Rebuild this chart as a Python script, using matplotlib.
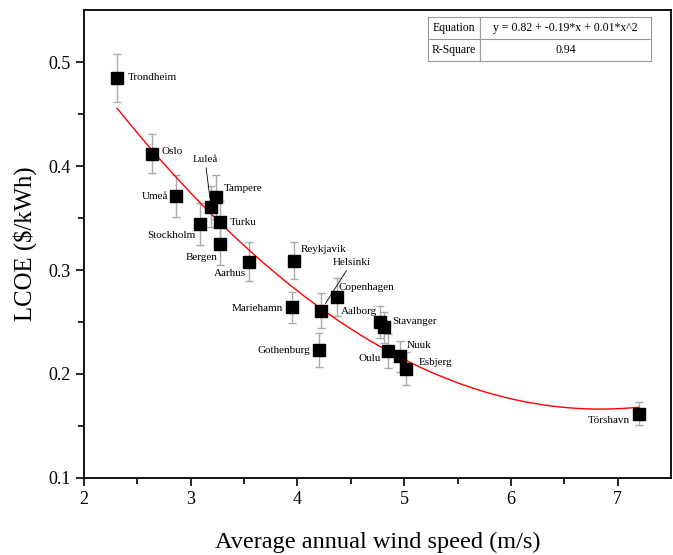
import numpy as np
import matplotlib
matplotlib.use("Agg")
import matplotlib.pyplot as plt

# LCOE vs average annual wind speed for Nordic cities
cities = ["Trondheim", "Oslo", "Umeå", "Luleå", "Tampere", "Turku", "Stockholm",
          "Bergen", "Aarhus", "Reykjavik", "Mariehamn", "Helsinki", "Copenhagen",
          "Gothenburg", "Aalborg", "Stavanger", "Oulu", "Nuuk", "Esbjerg", "Tórshavn"]
wind = [2.31, 2.64, 2.86, 3.19, 3.24, 3.27, 3.09, 3.27, 3.55, 3.97,
        3.95, 4.22, 4.37, 4.20, 4.77, 4.81, 4.85, 4.96, 5.02, 7.20]
lcoe = [0.485, 0.412, 0.371, 0.361, 0.370, 0.346, 0.344, 0.325, 0.308, 0.309,
        0.264, 0.261, 0.274, 0.223, 0.250, 0.245, 0.222, 0.217, 0.205, 0.162]
err = [0.023, 0.019, 0.020, 0.020, 0.021, 0.020, 0.020, 0.020, 0.019, 0.018,
       0.015, 0.017, 0.018, 0.016, 0.015, 0.015, 0.016, 0.015, 0.016, 0.011]

eq_text = "y = 0.82 + -0.19*x + 0.01*x^2"
r2_text = "0.94"

# label offsets in pixels (dx, dy, ha)
offsets = {
    "Trondheim": (11, 0, "left"), "Oslo": (9, 2, "left"), "Umeå": (-8, 0, "right"),
    "Luleå": (-6, 43, "center"), "Tampere": (7, 9, "left"), "Turku": (10, 0, "left"),
    "Stockholm": (-5, -11, "right"), "Bergen": (-2, -13, "right"),
    "Aarhus": (-3, -12, "right"), "Reykjavik": (6, 11, "left"),
    "Mariehamn": (-9, -1, "right"), "Helsinki": (31, 44, "center"),
    "Copenhagen": (2, 10, "left"), "Gothenburg": (-9, 0, "right"),
    "Aalborg": (-2, 11, "right"), "Stavanger": (8, 6, "left"),
    "Oulu": (-7, -7, "right"), "Nuuk": (7, 11, "left"), "Esbjerg": (12, 6, "left"),
    "Tórshavn": (-9, -7, "right"),
}
leader = {"Luleå", "Helsinki"}

plt.rcParams["font.family"] = ["Liberation Serif", "DejaVu Serif"]

fig = plt.figure(figsize=(6.73, 5.55), dpi=100)
ax = fig.add_axes([84 / 673, 77 / 555, 587 / 673, 468 / 555])

x = np.array(wind)
y = np.array(lcoe)

ax.errorbar(x, y, yerr=err, fmt="none", ecolor="#aaaaaa", elinewidth=1,
            capsize=3, capthick=1, zorder=2)

# quadratic fit through the points
coef = np.polyfit(x, y, 2)
xf = np.linspace(x.min(), x.max(), 200)
ax.plot(xf, np.polyval(coef, xf), color="red", lw=1, zorder=3)

ax.plot(x, y, "s", color="black", markersize=9, zorder=4)

for name, xi, yi in zip(cities, wind, lcoe):
    dx, dy, ha = offsets[name]
    if name in leader:
        ax.annotate(name, (xi, yi), xytext=(dx, dy), textcoords="offset pixels",
                    ha=ha, va="bottom", fontsize=8,
                    arrowprops=dict(arrowstyle="-", color="black", lw=0.6,
                                    shrinkA=1, shrinkB=6))
    else:
        ax.annotate(name, (xi, yi), xytext=(dx, dy), textcoords="offset pixels",
                    ha=ha, va="center", fontsize=8)

ax.set_xlim(2, 7.5)
ax.set_ylim(0.1, 0.55)
ax.set_xticks([2, 3, 4, 5, 6, 7])
ax.set_yticks([0.1, 0.2, 0.3, 0.4, 0.5])
ax.set_xticks(np.arange(2.5, 7.5, 1.0), minor=True)
ax.set_yticks(np.arange(0.15, 0.55, 0.1), minor=True)
ax.tick_params(which="major", direction="out", length=6, width=1.2, labelsize=13)
ax.tick_params(which="minor", direction="out", length=4, width=1.2)
for s in ax.spines.values():
    s.set_linewidth(1.3)

ax.set_xlabel("Average annual wind speed (m/s)", fontsize=17.5, labelpad=17)
ax.set_ylabel("LCOE ($/kWh)", fontsize=17.8, labelpad=8)

# fit summary table, top right
tbl = ax.table(cellText=[["Equation", eq_text], ["R-Square", r2_text]],
               cellLoc="center",
               bbox=[344 / 587, 417 / 468, 223 / 587, 44 / 468],
               colWidths=[52, 171])
tbl.auto_set_font_size(False)
tbl.set_fontsize(8.5)
for (r, c), cell in tbl.get_celld().items():
    cell.set_edgecolor("#999999")
    cell.set_linewidth(0.8)
    if c == 0:
        cell._loc = "left"

fig.savefig("out.png", dpi=100)
